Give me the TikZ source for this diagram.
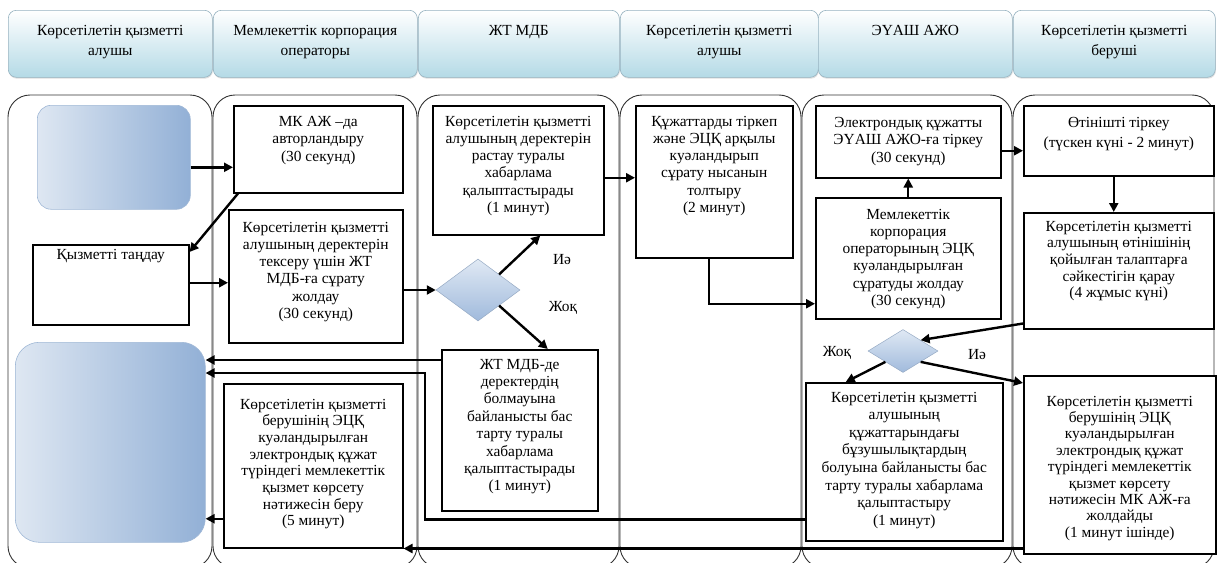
\documentclass[tikz,border=0pt]{standalone}
\usepackage{fontspec}
\setmainfont{Liberation Serif}
\usetikzlibrary{arrows.meta,shapes.geometric,shadows}
\definecolor{hdblue}{RGB}{180,218,230}
\definecolor{hdedge}{RGB}{150,178,192}
\definecolor{bluelt}{RGB}{222,231,242}
\definecolor{bluedk}{RGB}{146,176,214}
\definecolor{bluedge}{RGB}{160,184,214}
\definecolor{dialt}{RGB}{224,233,244}
\definecolor{diadk}{RGB}{160,186,220}
\definecolor{diaedge}{RGB}{150,170,196}
% width, height, top pad, baselineskip, text
\newcommand{\tbx}[5]{\parbox[c][#2pt][t]{#1pt}{\centering\baselineskip=#4pt\vspace*{#3pt}\strut #5\par}}
\begin{document}
\begin{tikzpicture}[x=1pt,y=-1pt,
  font=\fontsize{15.4}{17.6}\selectfont,
  lane/.style={draw=black!80, line width=0.9pt, rounded corners=22pt},
  hdr/.style={draw=hdedge, line width=0.6pt, rounded corners=8pt, top color=white, bottom color=hdblue, inner sep=0pt, anchor=north west, drop shadow={opacity=0.25, shadow xshift=0.6pt, shadow yshift=-1.4pt}},
  pbox/.style={draw=black, line width=1.5pt, fill=white, inner sep=0pt, anchor=north west},
  bluebox/.style={draw=bluedge, line width=0.6pt, left color=bluelt, right color=bluedk, inner sep=0pt, anchor=north west},
  dia/.style={diamond, draw=diaedge, line width=0.5pt, top color=dialt, bottom color=diadk, inner sep=0pt},
  lbl/.style={inner sep=1pt},
  arr/.style={line width=2.4pt, -{Triangle[length=9pt,width=9pt]}},
]
\useasboundingbox (0,0) rectangle (1217,562);

% lanes
\draw[lane] (8,95) rectangle (212,568);
\draw[lane] (213,95) rectangle (417,568);
\draw[lane] (418,95) rectangle (619,568);
\draw[lane] (620,95) rectangle (801,568);
\draw[lane] (802,95) rectangle (1012,568);
\draw[lane] (1013,95) rectangle (1214,568);

% headers
\node[hdr] (h1) at (8,10) {\tbx{204}{67}{13}{20}{Көрсетілетін қызметті\\алушы}};
\node[hdr] (h2) at (213,10) {\tbx{204}{67}{13}{20}{Мемлекеттік корпорация\\операторы}};
\node[hdr] (h3) at (418,10) {\tbx{201}{67}{13}{20}{ЖТ МДБ}};
\node[hdr] (h4) at (620,10) {\tbx{198}{67}{13}{20}{Көрсетілетін қызметті\\алушы}};
\node[hdr] (h5) at (818,10) {\tbx{194}{67}{13}{20}{ЭҮАШ АЖО}};
\node[hdr] (h6) at (1013,10) {\tbx{202}{67}{13}{20}{Көрсетілетін қызметті\\беруші}};

% lane 1
\node[bluebox, rounded corners=14pt, minimum width=153pt, minimum height=104pt] (blueA) at (37,105) {};
\node[pbox] (tandau) at (32,244) {\tbx{156}{80}{2}{17.3}{Қызметті таңдау}};
\node[bluebox, rounded corners=24pt, minimum width=190pt, minimum height=200pt] (blueB) at (15,342) {};

% lane 2
\node[pbox] (mk) at (233,105) {\tbx{169}{87}{8}{17.5}{МК АЖ –да\\авторландыру\\(30 секунд)}};
\node[pbox] (surat) at (228,209) {\tbx{174}{133}{10}{17.3}{Көрсетілетін қызметті\\алушының деректерін\\тексеру үшін ЖТ\\МДБ-ға сұрату\\жолдау\\(30 секунд)}};
\node[pbox] (beru) at (223,383) {\tbx{179}{164}{13}{16.7}{Көрсетілетін қызметті\\берушінің ЭЦҚ\\куәландырылған\\электрондық құжат\\түріндегі мемлекеттік\\қызмет көрсету\\нәтижесін беру\\(5 минут)}};

% lane 3
\node[pbox] (rastau) at (432,105) {\tbx{171}{129}{8}{17.3}{Көрсетілетін қызметті\\алушының деректерін\\растау туралы\\хабарлама\\қалыптастырады\\(1 минут)}};
\node[dia, minimum width=84pt, minimum height=62pt] (d1) at (478,290) {};
\node[lbl] (l1) at (562,260) {Иә};
\node[lbl] (l2) at (563,308) {Жоқ};
\node[pbox] (zhtmdb) at (441,349) {\tbx{156}{161}{7}{17.4}{ЖТ МДБ-де\\деректердің\\болмауына\\байланысты бас\\тарту туралы\\хабарлама\\қалыптастырады\\(1 минут)}};

% lane 4
\node[pbox] (kuzhat) at (635,105) {\tbx{157}{152}{8}{17.3}{Құжаттарды тіркеп\\және ЭЦҚ арқылы\\куәландырып\\сұрату нысанын\\толтыру\\(2 минут)}};

% lane 5
\node[pbox] (elektr) at (815,105) {\tbx{185}{72}{9}{17.5}{Электрондық құжатты\\ЭҮАШ АЖО-ға тіркеу\\(30 секунд)}};
\node[pbox] (memkorp) at (815,197) {\tbx{185}{121}{9}{17.3}{Мемлекеттік\\корпорация\\операторының ЭЦҚ\\куәландырылған\\сұратуды жолдау\\(30 секунд)}};
\node[dia, minimum width=70pt, minimum height=43pt] (d2) at (903,351) {};
\node[lbl] (l3) at (837,353) {Жоқ};
\node[lbl] (l4) at (977,355) {Иә};
\node[pbox] (buzu) at (805,382) {\tbx{197}{158}{7}{17.6}{Көрсетілетін қызметті\\алушының\\құжаттарындағы\\бұзушылықтардың\\болуына байланысты бас\\тарту туралы хабарлама\\қалыптастыру\\(1 минут)}};

% lane 6
\node[pbox] (otinish) at (1023,105) {\tbx{190}{70}{9}{20}{Өтінішті тіркеу\\(түскен күні - 2 минут)}};
\node[pbox] (karau) at (1023,212) {\tbx{190}{116}{6}{16.7}{Көрсетілетін қызметті\\алушының өтінішінің\\қойылған талаптарға\\сәйкестігін қарау\\(4 жұмыс күні)}};
\node[pbox] (beru2) at (1023,375) {\tbx{192}{178}{18}{16.4}{Көрсетілетін қызметті\\берушінің ЭЦҚ\\куәландырылған\\электрондық құжат\\түріндегі мемлекеттік\\қызмет көрсету\\нәтижесін МК АЖ-ға\\жолдайды\\(1 минут ішінде)}};

% connectors
\draw[arr] ([yshift=-10pt]blueA.east) coordinate (a1) -- (a1 -| mk.west);
\draw[arr] ([xshift=5pt]mk.south west) -- ([yshift=-8pt]tandau.north east);
\draw[arr] ([yshift=2pt]tandau.east) coordinate (a3) -- (a3 -| surat.west);
\draw[arr] (d1.west -| surat.east) -- (d1.west);
\draw[arr] (d1.north east) -- ([xshift=22pt]rastau.south);
\draw[arr] (d1.south east) -- ([xshift=28pt]zhtmdb.north);
\draw[arr] ([yshift=-7.5pt]rastau.east) coordinate (a7) -- (a7 -| kuzhat.west);
\draw[arr] ([xshift=-5pt]kuzhat.south) |- ([yshift=-45.5pt]memkorp.west);
\draw[arr] (memkorp.north) -- (elektr.south);
\draw[arr] ([yshift=-9pt]elektr.east) coordinate (a10) -- (a10 -| otinish.west);
\draw[arr] ([xshift=-5pt]otinish.south) coordinate (a11) -- (a11 |- karau.north);
\draw[arr] ([yshift=6pt]karau.south west) -- (d2.north east);
\draw[arr] (d2.south west) -- ([xshift=-58.5pt]buzu.north);
\draw[arr] (d2.south east) -- ([yshift=-8pt]beru2.north west);
\draw[arr] ([yshift=-11pt]zhtmdb.north west) coordinate (a15) -- (a15 -| blueB.east);
\coordinate (c16) at (425,373);
\draw[arr] ([yshift=22pt]buzu.south west) -| (c16) -- (c16 -| blueB.east);
\draw[arr] (beru.south east -| beru2.west) -- (beru.south east);
\draw[arr] ([yshift=-53pt]beru.west) coordinate (a18) -- (a18 -| blueB.east);
\end{tikzpicture}
\end{document}
